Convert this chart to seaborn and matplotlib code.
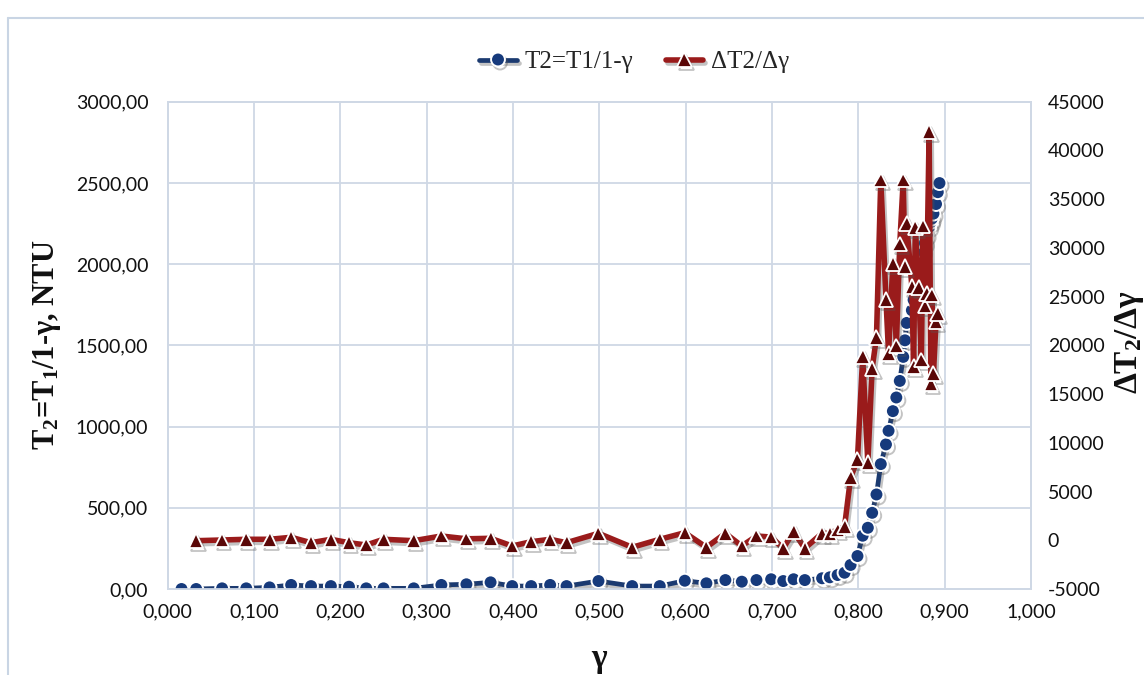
import numpy as np
import pandas as pd
import matplotlib
matplotlib.use("Agg")
import matplotlib.pyplot as plt
import matplotlib.patheffects as pe
from matplotlib.ticker import FuncFormatter, MultipleLocator
from matplotlib.lines import Line2D
import seaborn as sns

# ---------------- data ----------------
gamma = [0.016, 0.033, 0.063, 0.091, 0.118, 0.143, 0.166, 0.189, 0.210, 0.230,
         0.250, 0.285, 0.317, 0.346, 0.374, 0.399, 0.421, 0.443, 0.462, 0.499,
         0.538, 0.570, 0.599, 0.624, 0.646, 0.665, 0.682, 0.699, 0.713, 0.725,
         0.738, 0.758, 0.767, 0.776, 0.784, 0.791, 0.799, 0.805, 0.811, 0.816,
         0.821, 0.826, 0.832, 0.835, 0.840, 0.844, 0.848, 0.852, 0.854, 0.856,
         0.862, 0.864, 0.866, 0.870, 0.873, 0.875, 0.877, 0.879, 0.882, 0.884,
         0.885, 0.887, 0.890, 0.892, 0.894]

t2 = [0, 0, 4, 4, 10, 25, 18, 18, 14, 4,
      4, 4, 25, 29, 41, 18, 18, 25, 18, 49,
      18, 18, 51, 35, 55, 45, 55, 60, 49, 60,
      55, 66, 72, 86, 100, 148, 203, 328, 377, 469,
      582, 769, 890, 974, 1095, 1179, 1281, 1429, 1531, 1638,
      1716, 1780, 1850, 1950, 2020, 2080, 2130, 2180, 2230, 2260,
      2280, 2311, 2370, 2443, 2499]

dt2 = [np.nan, -44, 28, 100, 100, 305, -250, 100, -250, -485,
       100, -44, 438, 150, 202, -588, -147, 100, -250, 715,
       -721, 100, 777, -721, 715, -588, 438, 330, -824, 879,
       -824, 715, 715, 1054, 1392, 6420, 8308, 18836, 7959, 17645,
       20826, 36966, 24725, 19184, 28419, 19933, 30399, 36966, 28070, 32523,
       26018, 17809, 32072, 25916, 18497, 32246, 24038, 25341, 41922, 16106,
       25166, 17132, 22427, 23289, np.nan]

legend_labels = ["T2=T1/1-\u03b3", "\u0394T2/\u0394\u03b3"]
left_label = "T$_2$=T$_1$/1-\u03b3, NTU"
right_label = "\u0394T$_2$/\u0394\u03b3"
x_label = "\u03b3"

df = pd.DataFrame({"gamma": gamma, "T2": t2, "dT2": dt2})

# ---------------- style ----------------
sns.set_theme(style="white")
plt.rcParams["font.family"] = ["Lato", "DejaVu Sans"]
plt.rcParams["mathtext.fontset"] = "custom"
plt.rcParams["mathtext.rm"] = "Liberation Serif"
plt.rcParams["mathtext.bf"] = "Liberation Serif:bold"
plt.rcParams["mathtext.default"] = "bf"

W, H = 1144, 675
fig = plt.figure(figsize=(W / 100, H / 100), dpi=100)
fig.patch.set_facecolor("white")

x0, x1, ytop, ybot = 167.7, 1031, 101.7, 589
ax = fig.add_axes([x0 / W, 1 - ybot / H, (x1 - x0) / W, (ybot - ytop) / H])
ax2 = ax.twinx()

blue_line = "#1b3a70"
blue_mark = "#163a7c"
red_line = "#9a1b1b"
red_mark = "#5a0707"
grid_c = "#cfd8e5"

shadow = [pe.SimpleLineShadow(offset=(1.5, -2.2), shadow_color="#555555", alpha=0.35), pe.Normal()]

sns.lineplot(data=df, x="gamma", y="T2", ax=ax, sort=False, color=blue_line,
             linewidth=3.4, marker="o", markersize=10, markerfacecolor=blue_mark,
             markeredgecolor="white", markeredgewidth=1.4, legend=False, zorder=3)
sns.lineplot(data=df.dropna(), x="gamma", y="dT2", ax=ax2, sort=False, color=red_line,
             linewidth=4.0, marker="^", markersize=10.5, markerfacecolor=red_mark,
             markeredgecolor="white", markeredgewidth=1.3, legend=False, zorder=3)
h1 = ax.lines[-1]
h2 = ax2.lines[-1]
h1.set_path_effects(shadow)
h2.set_path_effects(shadow)

# ---------------- axes ----------------
ax.set_xlim(0, 1)
ax.set_ylim(0, 3000)
ax2.set_ylim(-5000, 45000)
ax.xaxis.set_major_locator(MultipleLocator(0.1))
ax.yaxis.set_major_locator(MultipleLocator(500))
ax2.yaxis.set_major_locator(MultipleLocator(5000))
ax.xaxis.set_major_formatter(FuncFormatter(lambda v, p: f"{v:.3f}".replace(".", ",")))
ax.yaxis.set_major_formatter(FuncFormatter(lambda v, p: f"{v:.2f}".replace(".", ",")))
ax2.yaxis.set_major_formatter(FuncFormatter(lambda v, p: f"{int(round(v))}"))

ax.grid(True, color=grid_c, linewidth=1.3)
ax2.grid(False)
ax.set_axisbelow(True)
for a in (ax, ax2):
    for s in a.spines.values():
        s.set_color(grid_c)
        s.set_linewidth(1.3)
    a.set_xlabel("")
    a.set_ylabel("")
ax.tick_params(axis="x", length=0, pad=10, labelsize=14, labelcolor="#111111")
ax.tick_params(axis="y", length=0, pad=14, labelsize=14, labelcolor="#111111")
ax2.tick_params(axis="y", length=0, pad=12, labelsize=14, labelcolor="#111111")

# ---------------- labels ----------------
serif = ["Liberation Serif", "DejaVu Serif"]
fig.text(47 / W, 1 - 345 / H, left_label, rotation=90, ha="center", va="center",
         family=serif, weight="bold", size=22, color="#111111")
fig.text(1129 / W, 1 - 342 / H, right_label, rotation=90, ha="center", va="center",
         family=serif, weight="bold", size=24, color="#111111")
fig.text(599 / W, 1 - 658 / H, x_label, ha="center", va="center",
         family=serif, weight="bold", size=24, color="#111111")

fig.legend(handles=[h1, h2], labels=legend_labels, loc="center",
           bbox_to_anchor=(634 / W, 1 - 62 / H), ncol=2, frameon=False,
           prop={"family": serif, "size": 18}, handlelength=1.5,
           handletextpad=0.3, columnspacing=1.3)

# chart-area border (left and top)
bc = "#c9d5e4"
fig.add_artist(Line2D([8 / W, 8 / W], [0, 1 - 18 / H], transform=fig.transFigure, color=bc, lw=1.5))
fig.add_artist(Line2D([8 / W, 1], [1 - 18 / H, 1 - 18 / H], transform=fig.transFigure, color=bc, lw=1.5))

fig.savefig("out.png", dpi=100, facecolor="white")
